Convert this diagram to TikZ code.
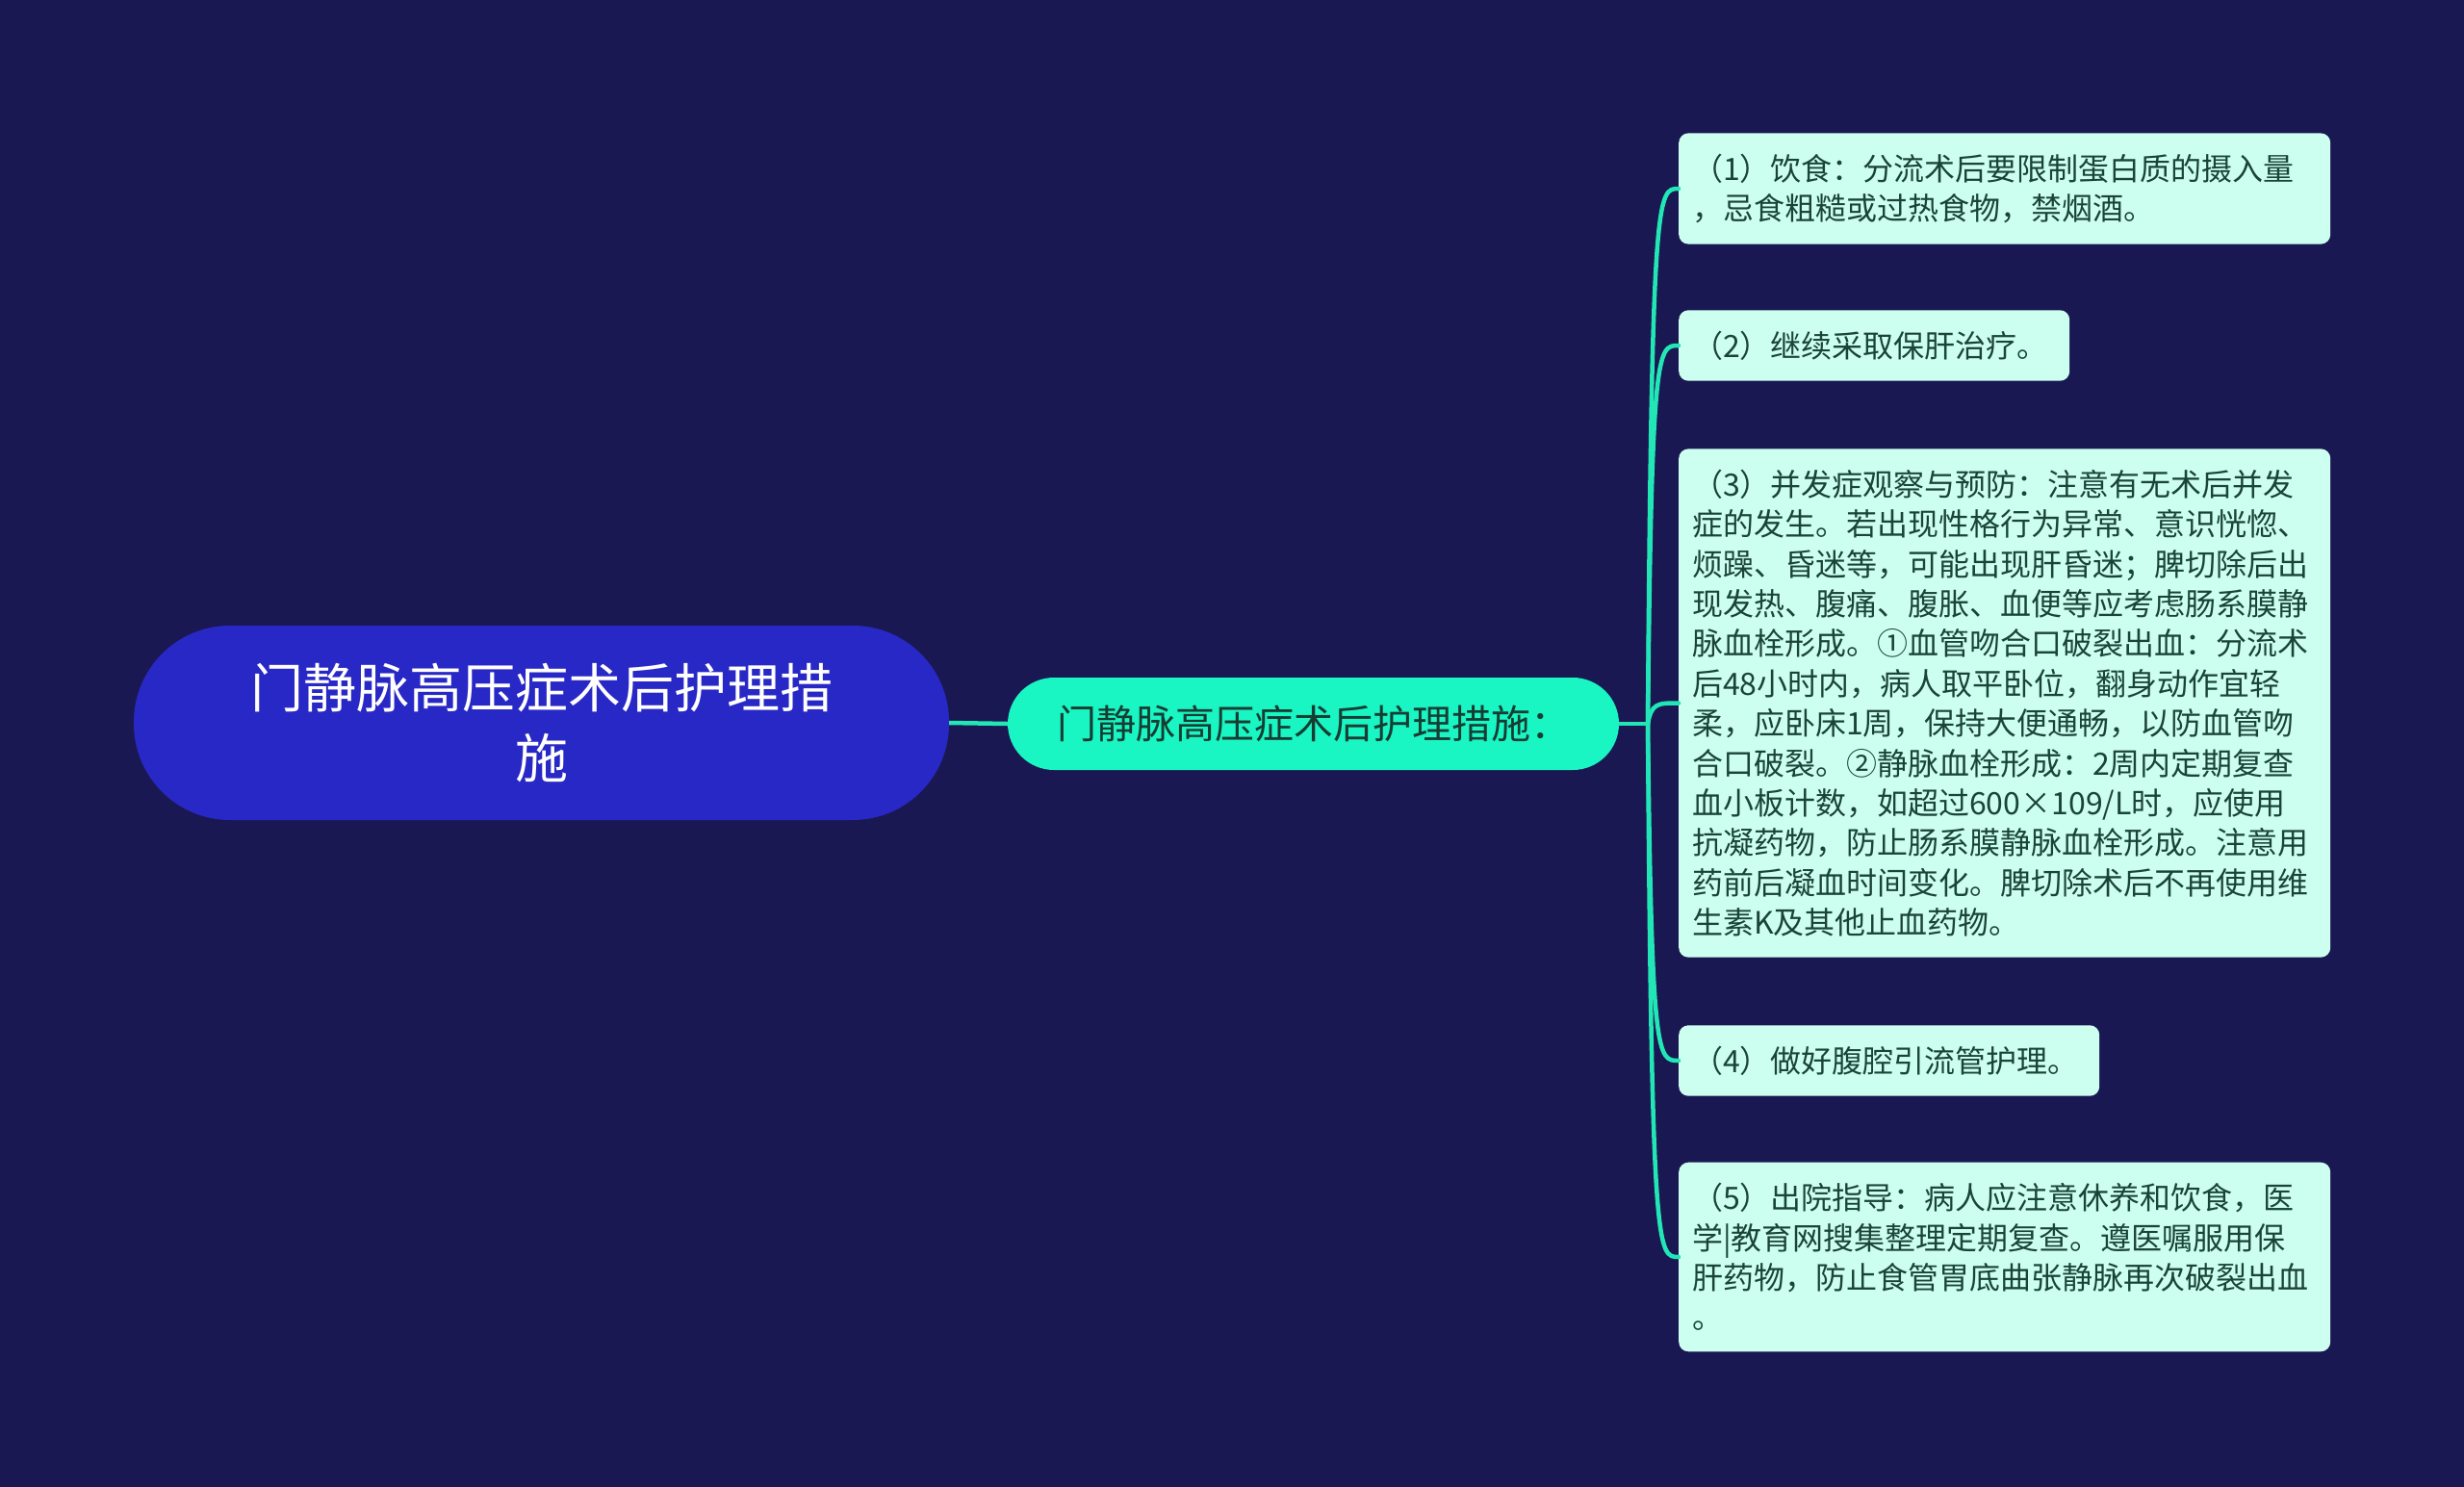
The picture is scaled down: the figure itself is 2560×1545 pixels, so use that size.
\documentclass[tikz,border=0pt]{standalone}
\usepackage{fontspec}
\setmainfont{Noto Sans CJK SC}
\definecolor{bgc}{HTML}{1A1852}
\definecolor{rootc}{HTML}{2828C6}
\definecolor{branchc}{HTML}{19F5C3}
\definecolor{linkc}{HTML}{22E6B6}
\definecolor{leafc}{HTML}{CDFFF1}
\definecolor{leaftxt}{HTML}{1A4536}
\definecolor{branchtxt}{HTML}{173C32}
\tikzset{
  rootbox/.style={fill=rootc, rounded corners=100pt, minimum width=847pt, minimum height=202pt,
    text=white, align=center, inner sep=0pt, font=\fontsize{55}{73}\selectfont},
  branchbox/.style={fill=branchc, rounded corners=48pt, minimum width=635pt, minimum height=96pt,
    text=branchtxt, align=center, inner sep=0pt, font=\fontsize{41}{50}\selectfont},
  leafbox/.style={fill=leafc, rounded corners=10pt, anchor=west, align=left, text=leaftxt,
    inner xsep=14pt, inner ysep=21.5pt, font=\fontsize{32}{41.4}\selectfont},
  link/.style={draw=linkc, line width=4.5pt}
}
\begin{document}
\begin{tikzpicture}[x=1pt,y=-1pt]
\fill[bgc] (0,0) rectangle (2560,1545);
\useasboundingbox (0,0) rectangle (2560,1545);

\node[rootbox] (root) at (562.5,751) {门静脉高压症术后护理措\\施};
\node[branchbox] (br) at (1364.5,752) {门静脉高压症术后护理措施：};

\node[leafbox, text width=649pt] (l1) at (1744,196) {（1）饮食：分流术后要限制蛋白质的摄入量\\，忌食粗糙或过热食物，禁烟酒。};
\node[leafbox, text width=378pt] (l2) at (1744,359) {（2）继续采取保肝治疗。};
\node[leafbox, text width=649pt] (l3) at (1744,730.5) {（3）并发症观察与预防：注意有无术后并发\\症的发生。若出现性格行为异常、意识恍惚、\\烦躁、昏迷等，可能出现肝昏迷；脾切除后出\\现发热、腹痛、腹胀、血便等应考虑肠系膜静\\脉血栓形成。①血管吻合口破裂出血：分流术\\后48小时内，病人取平卧位，翻身动作宜轻\\柔，应卧床1周，保持大便通畅，以防血管吻\\合口破裂。②静脉血栓形成：2周内定期复查\\血小板计数，如超过600×109/L时，应使用\\抗凝药物，防止肠系膜静脉血栓形成。注意用\\药前后凝血时间变化。脾切除术后不再使用维\\生素K及其他止血药物。};
\node[leafbox, text width=409pt] (l4) at (1744,1102) {（4）做好腹腔引流管护理。};
\node[leafbox, text width=649pt] (l5) at (1744,1306) {（5）出院指导：病人应注意休养和饮食，医\\学|教育网搜集整理定期复查。遵医嘱服用保\\肝药物，防止食管胃底曲张静脉再次破裂出血\\。};

\coordinate (hub) at (1712,752);
\draw[link] (root.east) -- (br.west);
\draw[link] (br.east) -- (hub);
\foreach \n/\yy in {l1/196,l2/359,l3/730.5,l4/1102,l5/1306}{
  \draw[link, line cap=round] (hub) .. controls (1716,\yy) and (1722,\yy) .. (\n.west);
}
\end{tikzpicture}
\end{document}
